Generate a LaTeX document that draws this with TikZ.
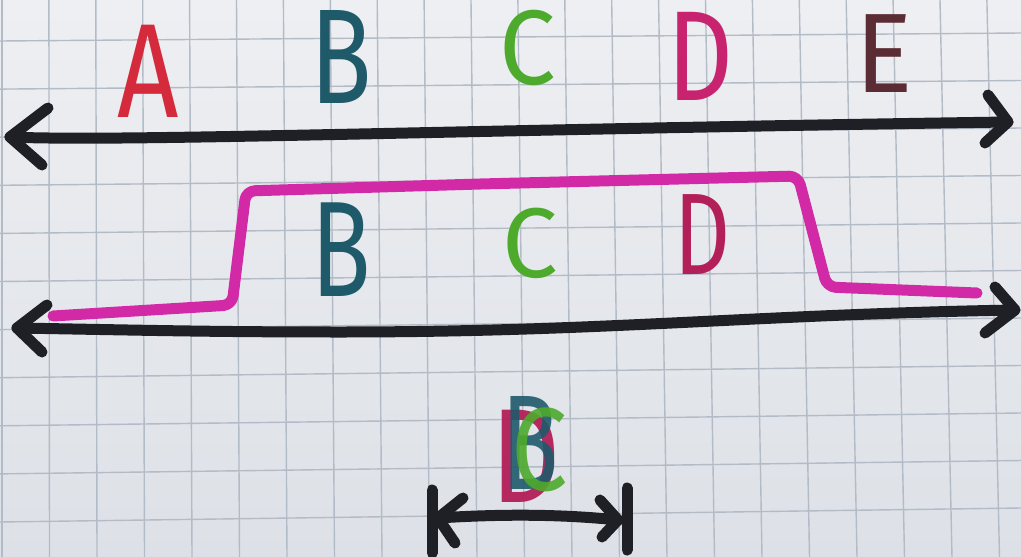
\documentclass[tikz,border=0pt]{standalone}
\usepackage{fontspec}
\usepackage{graphicx}
\setmainfont{Fira Sans}
\definecolor{paperT}{HTML}{EEEFF2}
\definecolor{paperB}{HTML}{DDE1E7}
\definecolor{gridc}{HTML}{B3BBC6}
\definecolor{ink}{HTML}{1F1F26}
\definecolor{cA}{HTML}{D52A3C}
\definecolor{cB}{HTML}{1F5A6B}
\definecolor{cC}{HTML}{4DAA2C}
\definecolor{cD}{HTML}{C8236E}
\definecolor{cDm}{HTML}{B31F58}
\definecolor{cE}{HTML}{5B2C33}
\definecolor{cP}{HTML}{D22AA6}
\begin{document}
\begin{tikzpicture}[x=1pt,y=-1pt,line cap=round,line join=round,
  gridline/.style={draw=gridc,line width=1.4pt},
  marker/.style={draw=ink,line width=11pt},
  pinkmarker/.style={draw=cP,line width=11pt,rounded corners=9pt},
  ltr/.style={inner sep=0pt,font=\fontsize{#1}{#1}\selectfont}]
\useasboundingbox (0,0) rectangle (1021,557);
\shade[top color=paperT,bottom color=paperB] (0,0) rectangle (1021,557);
% grid paper
\foreach \k in {0,...,21} \draw[gridline] ({2+46.9*\k},0) -- ({2+47.5*\k},557);
\foreach \j in {0,...,10} \draw[gridline] (0,{41+48.1*\j}) -- (1021,{33+47.5*\j});

% ---- top row ----
\node[ltr=134,text=cA] (tA) at (148,71) {\scalebox{0.8}[1]{A}};
\node[ltr=135,text=cB] (tB) at (341,57) {\scalebox{0.75}[1]{B}};
\node[ltr=106,text=cC] (tC) at (528,48) {\scalebox{0.95}[1]{C}};
\node[ltr=128,text=cD] (tD) at (700,56) {\scalebox{0.8}[1]{D}};
\node[ltr=113,text=cE] (tE) at (884,54) {\scalebox{0.95}[1]{E}};

\coordinate (tL) at (10,137);
\coordinate (tR) at (1008,122);
\coordinate (tLa) at (48,108);
\coordinate (tLb) at (42,165);
\coordinate (tRa) at (988,95);
\coordinate (tRb) at (985,143);
\draw[marker] (tL) .. controls (120,142) and (450,130) .. (tR);
\draw[marker] (tLa) -- (tL) -- (tLb);
\draw[marker] (tRa) -- (tR) -- (tRb);

% ---- middle row ----
\coordinate (p0) at (53,316);
\coordinate (p1) at (232,305);
\coordinate (p2) at (246,191);
\coordinate (p3) at (480,184);
\coordinate (p4) at (798,176);
\coordinate (p5) at (827,287);
\coordinate (p6) at (977,293);
\draw[pinkmarker] (p0) -- (p1) -- (p2) -- (p3) -- (p4) -- (p5) -- (p6);

\node[ltr=136,text=cB] (mB) at (341,250) {\scalebox{0.72}[1]{B}};
\node[ltr=99,text=cC] (mC) at (530,243) {\scalebox{1}[1]{C}};
\node[ltr=116,text=cDm] (mD) at (703,235) {\scalebox{0.75}[1]{D}};

\coordinate (mL) at (17,328);
\coordinate (mM) at (340,332);
\coordinate (mR) at (1015,310);
\coordinate (mLa) at (47,305);
\coordinate (mLb) at (42,352);
\coordinate (mRa) at (995,287);
\coordinate (mRb) at (985,333);
\draw[marker] (mL) to[out=-1,in=180] (mM) to[out=0,in=181] (mR);
\draw[marker] (mLa) -- (mL) -- (mLb);
\draw[marker] (mRa) -- (mR) -- (mRb);

% ---- bottom ----
\node[ltr=134,text=cDm,text opacity=0.95] (bD) at (526,456) {\scalebox{0.8}[1]{D}};
\node[ltr=135,text=cB,text opacity=0.9] (bB) at (530,443) {\scalebox{0.7}[1]{B}};
\node[ltr=118,text=cC,text opacity=0.9] (bC) at (540,450) {\scalebox{0.85}[1]{C}};

\coordinate (bL) at (438,518);
\coordinate (bR) at (618,520);
\coordinate (bLt) at (432,490);
\coordinate (bLu) at (432,553);
\coordinate (bRt) at (627,488);
\coordinate (bRu) at (627,550);
\coordinate (bLa) at (463,498);
\coordinate (bLb) at (455,543);
\coordinate (bRa) at (600,500);
\coordinate (bRb) at (602,537);
\draw[marker] (bL) .. controls (500,514) and (560,514) .. (bR);
\draw[marker] (bLt) -- (bLu);
\draw[marker] (bRt) -- (bRu);
\draw[marker] (bLa) -- (bL) -- (bLb);
\draw[marker] (bRa) -- (bR) -- (bRb);
\end{tikzpicture}
\end{document}
